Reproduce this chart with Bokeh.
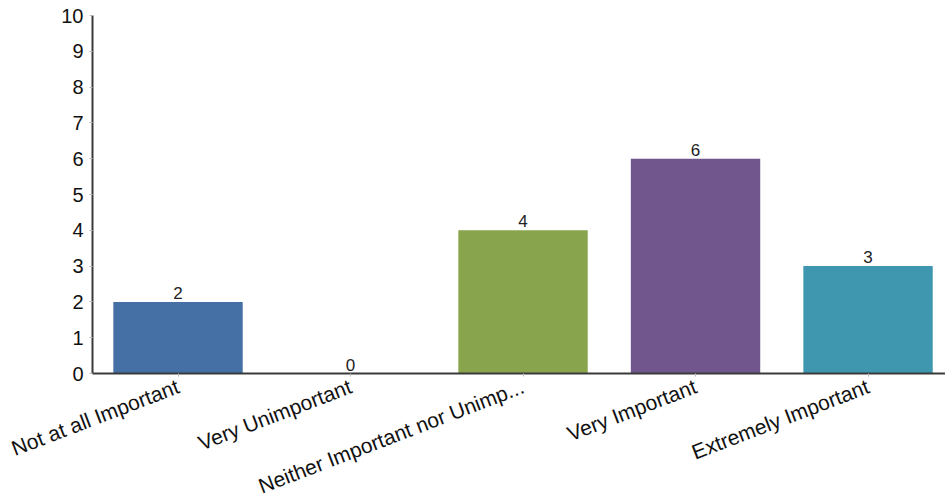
from bokeh.plotting import figure
from bokeh.models import ColumnDataSource, Range1d, FixedTicker, LabelSet
from bokeh.core.properties import value
from bokeh.embed import file_html
from bokeh.resources import INLINE
import math

# Survey responses: importance rating counts
categories = [
    "Not at all Important",
    "Very Unimportant",
    "Neither Important nor Unimp...",
    "Very Important",
    "Extremely Important",
]
counts = [2, 0, 4, 6, 3]
colors = ["#4470A5", "#AA4643", "#88A54D", "#70568D", "#3E97AF"]
y_ticks = [0, 1, 2, 3, 4, 5, 6, 7, 8, 9, 10]

positions = list(range(len(categories)))
source = ColumnDataSource(data=dict(
    x=positions,
    top=counts,
    color=colors,
    label=[str(c) for c in counts],
))

FONT = "Liberation Sans"

# Fixed inner frame so that the rotated category labels get the room below it
p = figure(
    frame_width=853, frame_height=358,
    output_backend="svg", toolbar_location=None,
    x_range=Range1d(-0.4957, 4.449),
    y_range=Range1d(0, 10),
    min_border_left=92, min_border_right=0,
    min_border_top=15, min_border_bottom=0,
)
p.outline_line_color = None
p.xgrid.grid_line_color = None
p.ygrid.grid_line_color = None
p.background_fill_color = "white"
p.border_fill_color = "white"

p.vbar(x="x", top="top", bottom=0, width=0.75, color="color",
       line_color=None, source=source)

labels = LabelSet(x="x", y="top", text="label", source=source,
                  text_align="center", text_baseline="bottom", y_offset=3,
                  text_font=value(FONT), text_font_size="17px",
                  text_color="#222222")
p.add_layout(labels)

# Y axis
p.yaxis.ticker = FixedTicker(ticks=y_ticks)
p.yaxis.minor_tick_line_color = None
p.yaxis.axis_line_color = "#3a3a3a"
p.yaxis.axis_line_width = 2
p.yaxis.major_tick_line_color = "#bbbbbb"
p.yaxis.major_tick_out = 3
p.yaxis.major_tick_in = 0
p.yaxis.major_label_text_font = FONT
p.yaxis.major_label_text_font_size = "20px"
p.yaxis.major_label_text_color = "#111111"
p.yaxis.major_label_standoff = 6

# X axis with category names at each bar
p.xaxis.ticker = FixedTicker(ticks=positions)
p.xaxis.major_label_overrides = {i: c for i, c in enumerate(categories)}
p.xaxis.minor_tick_line_color = None
p.xaxis.axis_line_color = "#3a3a3a"
p.xaxis.axis_line_width = 2
p.xaxis.major_tick_line_color = "#bbbbbb"
p.xaxis.major_tick_out = 3
p.xaxis.major_tick_in = 0
p.xaxis.major_label_orientation = math.radians(21)
p.xaxis.major_label_text_font = FONT
p.xaxis.major_label_text_font_size = "21px"
p.xaxis.major_label_text_color = "#111111"
p.xaxis.major_label_standoff = 9

open("out.html", "w").write(file_html(p, INLINE))
